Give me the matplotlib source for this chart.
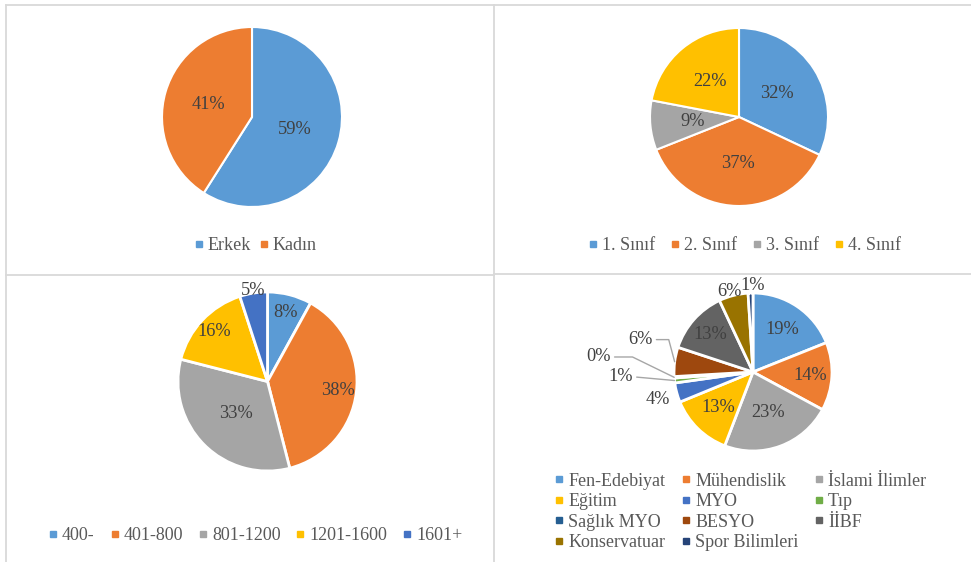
import matplotlib
matplotlib.use("Agg")
import matplotlib.pyplot as plt
from matplotlib.lines import Line2D
import numpy as np

# ---------------- data ----------------
gender_labels = ["Erkek", "Kadın"]
gender_values = [59, 41]

class_labels = ["1. Sınıf", "2. Sınıf", "3. Sınıf", "4. Sınıf"]
class_values = [32, 37, 9, 22]

income_labels = ["400-", "401-800", "801-1200", "1201-1600", "1601+"]
income_values = [8, 38, 33, 16, 5]

faculty_labels = ["Fen-Edebiyat", "Mühendislik", "İslami İlimler", "Eğitim", "MYO", "Tıp",
                  "Sağlık MYO", "BESYO", "İİBF", "Konservatuar", "Spor Bilimleri"]
faculty_values = [19, 14, 23, 13, 4, 1, 0.3, 6, 13, 6, 1]

# ---------------- style ----------------
W, H = 971, 562
FONT = "Liberation Serif"
LBL_COLOR = "#404040"
LEG_COLOR = "#595959"
FS = 13.2
LFS = 13
c_main = ["#5B9BD5", "#ED7D31", "#A5A5A5", "#FFC000", "#4472C4"]
c_fac = ["#5B9BD5", "#ED7D31", "#A5A5A5", "#FFC000", "#4472C4", "#70AD47",
         "#255E91", "#9E480E", "#636363", "#997300", "#264478"]

plt.rcParams['font.family'] = [FONT, 'DejaVu Sans']
fig = plt.figure(figsize=(W / 100, H / 100), dpi=100)
fig.patch.set_facecolor("white")


def px_axes(cx, cy, R, half=1.25):
    s = half * R
    ax = fig.add_axes([(cx - s) / W, 1 - (cy + s) / H, 2 * s / W, 2 * s / H])
    ax.set_xlim(-half, half)
    ax.set_ylim(-half, half)
    ax.set_aspect("equal")
    ax.axis("off")
    return ax


def draw_pie(ax, values, colors, lw=1.5):
    wedges, _ = ax.pie(values, colors=colors, startangle=90, counterclock=False,
                       wedgeprops=dict(edgecolor="white", linewidth=lw), radius=1.0)
    return wedges


def pct_text(values):
    tot = float(sum(values))
    return ["%d%%" % int(round(v / tot * 100)) for v in values]


def mid(w):
    return np.deg2rad((w.theta1 + w.theta2) / 2.0)


def inside_labels(ax, wedges, values, radii):
    for w, t, r in zip(wedges, pct_text(values), radii):
        a = mid(w)
        ax.text(r * np.cos(a), r * np.sin(a), t, ha="center", va="center",
                fontsize=FS, color=LBL_COLOR)


def legend(handles_colors, labels, cx, cy, ncol, colsp):
    hs = [Line2D([], [], marker="s", ls="none", color=c, markersize=5) for c in handles_colors]
    fig.legend(hs, labels, loc="center", bbox_to_anchor=(cx / W, 1 - cy / H), ncol=ncol,
               frameon=False, prop=dict(family=FONT, size=LFS), labelcolor=LEG_COLOR,
               handlelength=0.4, handletextpad=0.3, columnspacing=colsp,
               borderaxespad=0, borderpad=0, labelspacing=0.2)


# ---------------- panel borders ----------------
bc = "#d9d9d9"
for (x0, y0, x1, y1) in [(6, 5, 971, 5), (6, 5, 6, 562), (494, 5, 494, 562),
                         (6, 275, 494, 275), (494, 274, 971, 274)]:
    fig.add_artist(Line2D([x0 / W, x1 / W], [1 - y0 / H, 1 - y1 / H],
                          transform=fig.transFigure, color=bc, lw=1.3))

# ---------------- top-left: gender ----------------
ax1 = px_axes(252, 117, 90)
w1 = draw_pie(ax1, gender_values, c_main[:2])
inside_labels(ax1, w1, gender_values, [0.5, 0.5])
legend(c_main[:2], gender_labels, 256, 246, 2, 0.5)

# ---------------- top-right: class ----------------
ax2 = px_axes(739, 117, 89)
w2 = draw_pie(ax2, class_values, c_main[:4])
inside_labels(ax2, w2, class_values, [0.5, 0.52, 0.52, 0.52])
legend(c_main[:4], class_labels, 745, 246, 4, 0.9)

# ---------------- bottom-left: income ----------------
ax3 = px_axes(267.5, 381.5, 89.5)
w3 = draw_pie(ax3, income_values, c_main[:5], lw=2)
inside_labels(ax3, w3, income_values, [0.8, 0.79, 0.5, 0.82, 1.03])
legend(c_main[:5], income_labels, 256, 536, 5, 0.9)

# ---------------- bottom-right: faculty ----------------
R4 = 79
ax4 = px_axes(753, 372, R4)
w4 = draw_pie(ax4, faculty_values, c_fac, lw=2)
texts4 = pct_text(faculty_values)
# label placement: ('in', r) or ('out', dx, dy, connection) in pie-radius units
place = [("in", 0.65), ("in", 0.72), ("in", 0.55), ("in", 0.63),
         ("out", -1.20, -0.35, None),
         ("out", -1.68, -0.06, "arc3"),
         ("out", -1.96, 0.19, "angle,angleA=0,angleB=154,rad=0"),
         ("out", -1.43, 0.41, "angle,angleA=0,angleB=105,rad=0"),
         ("in", 0.72),
         ("out", -0.30, 1.02, None),
         ("out", -0.01, 1.10, None)]
for w, t, p in zip(w4, texts4, place):
    a = mid(w)
    if p[0] == "in":
        ax4.text(p[1] * np.cos(a), p[1] * np.sin(a), t, ha="center", va="center",
                 fontsize=FS, color=LBL_COLOR)
    else:
        _, lx, ly, conn = p
        if conn is None:
            ax4.text(lx, ly, t, ha="center", va="center", fontsize=FS, color=LBL_COLOR)
        else:
            ax4.annotate(t, xy=(np.cos(a), np.sin(a)), xytext=(lx, ly),
                         ha="center", va="center", fontsize=FS, color=LBL_COLOR,
                         arrowprops=dict(arrowstyle="-", color="#a6a6a6", lw=1.0,
                                         shrinkA=1, shrinkB=0, relpos=(1, 0.5),
                                         connectionstyle=conn))

order = [0, 3, 6, 9, 1, 4, 7, 10, 2, 5, 8]
legend([c_fac[i] for i in order], [faculty_labels[i] for i in order], 741, 512, 3, 0.95)

fig.savefig("out.png", dpi=100, facecolor="white")
